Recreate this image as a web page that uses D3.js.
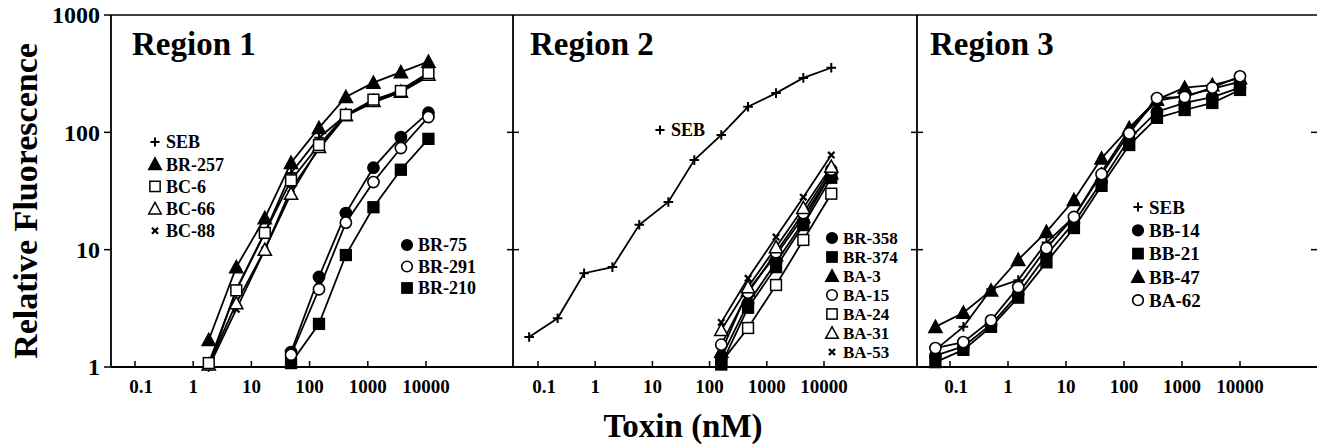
<!DOCTYPE html>
<html><head><meta charset="utf-8">
<script src="https://cdn.jsdelivr.net/npm/d3@7"></script>
<style>body{margin:0;background:#fff}svg{display:block}text{font-family:"Liberation Serif","Times New Roman",serif;font-weight:bold;fill:#000}</style>
</head><body><svg id="c" width="1317" height="446"></svg>
<script>
// ---------- data ----------
const xTickValues = [0.1, 1, 10, 100, 1000, 10000];
const xTickLabels = ["0.1", "1", "10", "100", "1000", "10000"];
const yTickValues = [1, 10, 100, 1000];
const yTickLabels = ["1", "10", "100", "1000"];
const panelTitles = ["Region 1", "Region 2", "Region 3"];

// Region 1
const r1DoseA = [1.85, 5.5, 17, 48, 145, 420, 1250, 3700, 11000];
const r1DoseB = [48, 145, 420, 1250, 3700, 11000];
const r1_SEB   = [1.0, 4.6, 14, 45, 90, 140, 185, 230, 320];
const r1_BR257 = [1.7, 7.1, 18.6, 55, 109, 200, 265, 326, 400];
const r1_BC6   = [1.08, 4.5, 13.9, 39, 78, 141, 190, 225, 320];
const r1_BC66  = [1.05, 3.5, 10, 30, 75, 140, 185, 222, 310];
const r1_BC88  = [1.0, 3.1, 10, 33, 72, 138, 180, 220, 300];
const r1_BR75  = [1.34, 5.85, 20.5, 50, 91, 147];
const r1_BR291 = [1.27, 4.6, 17, 37.7, 73.5, 135];
const r1_BR210 = [1.08, 2.33, 9, 23, 48, 88];

// Region 2
const r2DoseSEB = [0.07, 0.22, 0.64, 2.0, 5.9, 19, 54, 160, 470, 1450, 4350, 13400];
const r2_SEB    = [1.8, 2.6, 6.3, 7.1, 16.3, 25.5, 58, 95, 165, 216, 291, 355];
const r2Dose    = [160, 470, 1450, 4350, 13400];
const r2_BR358  = [1.2, 3.5, 7.8, 17.2, 45];
const r2_BR374  = [1.05, 3.2, 7.1, 16.2, 41];
const r2_BA3    = [1.35, 4.5, 9, 19, 45];
const r2_BA15   = [1.55, 4.3, 9.5, 20.5, 48];
const r2_BA24   = [1.1, 2.15, 5.0, 12.1, 30];
const r2_BA31   = [2.07, 4.8, 10.5, 22.7, 51];
const r2_BA53   = [2.4, 5.7, 12.8, 28, 64];

// Region 3
const r3Dose   = [0.056, 0.17, 0.51, 1.5, 4.6, 13.7, 41, 123, 370, 1111, 3333, 10000];
const r3_SEB   = [1.4, 2.2, 4.6, 5.5, 11.5, 19, 46, 105, 185, 205, 235, 270];
const r3_BB14  = [1.25, 1.5, 2.3, 4.2, 9, 17, 38, 88, 150, 178, 200, 240];
const r3_BB21  = [1.1, 1.4, 2.2, 3.9, 7.8, 15.3, 35, 78, 133, 155, 178, 230];
const r3_BB47  = [2.2, 2.9, 4.5, 8.2, 14.2, 26.5, 60, 109, 190, 240, 253, 290];
const r3_BA62  = [1.45, 1.63, 2.5, 4.8, 10.3, 19, 44, 98, 196, 200, 240, 300];

// ---------- layout ----------
const svg = d3.select("#c");
const yTop = 15, yBot = 367;
const y = d3.scaleLog().domain([1, 1000]).range([yBot, yTop]);

const panels = [
  {title: panelTitles[0], left: 111, right: 513, tick0: 135, tick4: 426, titleX: 132,
   series: [
     {name: "SEB", sym: "plus", xs: r1DoseA, ys: r1_SEB},
     {name: "BC-88", sym: "x", xs: r1DoseA, ys: r1_BC88},
     {name: "BC-66", sym: "otri", xs: r1DoseA, ys: r1_BC66},
     {name: "BC-6", sym: "osq", xs: r1DoseA, ys: r1_BC6},
     {name: "BR-257", sym: "tri", xs: r1DoseA, ys: r1_BR257},
     {name: "BR-210", sym: "sq", xs: r1DoseB, ys: r1_BR210},
     {name: "BR-75", sym: "circ", xs: r1DoseB, ys: r1_BR75},
     {name: "BR-291", sym: "ocirc", xs: r1DoseB, ys: r1_BR291}
   ],
   legends: [
     {x: 155, y0: 142, dy: 22.2, size: 18, items: [["plus","SEB"],["tri","BR-257"],["osq","BC-6"],["otri","BC-66"],["x","BC-88"]]},
     {x: 407, y0: 245, dy: 21.5, size: 18, items: [["circ","BR-75"],["ocirc","BR-291"],["sq","BR-210"]]}
   ]},
  {title: panelTitles[1], left: 513, right: 917, tick0: 538, tick4: 824, titleX: 530,
   series: [
     {name: "SEB", sym: "plus", xs: r2DoseSEB, ys: r2_SEB},
     {name: "BA-24", sym: "osq", xs: r2Dose, ys: r2_BA24},
     {name: "BR-374", sym: "sq", xs: r2Dose, ys: r2_BR374},
     {name: "BR-358", sym: "circ", xs: r2Dose, ys: r2_BR358},
     {name: "BA-3", sym: "tri", xs: r2Dose, ys: r2_BA3},
     {name: "BA-15", sym: "ocirc", xs: r2Dose, ys: r2_BA15},
     {name: "BA-31", sym: "otri", xs: r2Dose, ys: r2_BA31},
     {name: "BA-53", sym: "x", xs: r2Dose, ys: r2_BA53}
   ],
   legends: [
     {x: 660, y0: 130, dy: 20, size: 18, items: [["plus","SEB"]]},
     {x: 832, y0: 238, dy: 19, size: 17, items: [["circ","BR-358"],["sq","BR-374"],["tri","BA-3"],["ocirc","BA-15"],["osq","BA-24"],["otri","BA-31"],["x","BA-53"]]}
   ]},
  {title: panelTitles[2], left: 917, right: 1317, tick0: 950, tick4: 1240, titleX: 930,
   series: [
     {name: "BB-21", sym: "sq", xs: r3Dose, ys: r3_BB21},
     {name: "BB-14", sym: "circ", xs: r3Dose, ys: r3_BB14},
     {name: "SEB", sym: "plus", xs: r3Dose, ys: r3_SEB},
     {name: "BB-47", sym: "tri", xs: r3Dose, ys: r3_BB47},
     {name: "BA-62", sym: "ocirc", xs: r3Dose, ys: r3_BA62}
   ],
   legends: [
     {x: 1138, y0: 207, dy: 23.3, size: 19, items: [["plus","SEB"],["circ","BB-14"],["sq","BB-21"],["tri","BB-47"],["ocirc","BA-62"]]}
   ]}
];

function drawSymbol(g, sym, cx, cy, s) {
  s = s || 1;
  const stroke = "#000";
  if (sym === "circ" || sym === "ocirc") {
    g.append("circle").attr("cx", cx).attr("cy", cy).attr("r", 5.6 * s)
      .attr("fill", sym === "circ" ? "#000" : "#fff").attr("stroke", stroke).attr("stroke-width", 1.6);
  } else if (sym === "sq" || sym === "osq") {
    const h = 5.4 * s;
    g.append("rect").attr("x", cx - h).attr("y", cy - h).attr("width", 2 * h).attr("height", 2 * h)
      .attr("fill", sym === "sq" ? "#000" : "#fff").attr("stroke", stroke).attr("stroke-width", 1.5);
  } else if (sym === "tri" || sym === "otri") {
    const h = 6.6 * s;
    g.append("path").attr("d", `M${cx},${cy - h}L${cx + h},${cy + h * 0.85}L${cx - h},${cy + h * 0.85}Z`)
      .attr("fill", sym === "tri" ? "#000" : "#fff").attr("stroke", stroke).attr("stroke-width", 1.5);
  } else if (sym === "plus") {
    const h = 4.8 * s;
    g.append("path").attr("d", `M${cx - h},${cy}H${cx + h}M${cx},${cy - h}V${cy + h}`)
      .attr("stroke", stroke).attr("stroke-width", 2).attr("fill", "none");
  } else if (sym === "x") {
    const h = 3.2 * s;
    g.append("path").attr("d", `M${cx - h},${cy - h}L${cx + h},${cy + h}M${cx + h},${cy - h}L${cx - h},${cy + h}`)
      .attr("stroke", stroke).attr("stroke-width", 2.2).attr("fill", "none");
  }
}

// frame lines
const frame = svg.append("g").attr("stroke", "#000").attr("fill", "none");
frame.append("line").attr("x1", 111).attr("x2", 1317).attr("y1", yTop).attr("y2", yTop).attr("stroke-width", 1.6);
frame.append("line").attr("x1", 111).attr("x2", 1317).attr("y1", yBot).attr("y2", yBot).attr("stroke-width", 1.8);

panels.forEach((p, i) => {
  const x = d3.scaleLog().domain([0.1, 10000]).range([p.tick0, p.tick4]);
  const g = svg.append("g");

  g.append("line").attr("x1", p.left).attr("x2", p.left).attr("y1", yTop).attr("y2", yBot)
    .attr("stroke", "#000").attr("stroke-width", 1.8);

  yTickValues.forEach((v, k) => {
    if (i === 0) {
      g.append("line").attr("x1", p.left - 7).attr("x2", p.left).attr("y1", y(v)).attr("y2", y(v))
        .attr("stroke", "#000").attr("stroke-width", 1.5);
      g.append("text").attr("x", 100).attr("y", y(v)).attr("dy", "0.35em").attr("text-anchor", "end")
        .attr("font-size", 24).text(yTickLabels[k]);
    } else if (v === 10 || v === 100) {
      g.append("line").attr("x1", p.left - 6).attr("x2", p.left + 6).attr("y1", y(v)).attr("y2", y(v))
        .attr("stroke", "#000").attr("stroke-width", 1.5);
    }
  });
  if (i === 2) {
    [10, 100].forEach(v => g.append("line").attr("x1", 1311).attr("x2", 1317).attr("y1", y(v)).attr("y2", y(v))
      .attr("stroke", "#000").attr("stroke-width", 1.5));
  }

  xTickValues.forEach((v, k) => {
    g.append("line").attr("x1", x(v)).attr("x2", x(v)).attr("y1", yBot - 6).attr("y2", yBot)
      .attr("stroke", "#000").attr("stroke-width", 1.5);
    g.append("text").attr("x", x(v) + (k === 0 ? 6 : 0)).attr("y", 393).attr("text-anchor", "middle")
      .attr("font-size", 19).text(xTickLabels[k]);
  });

  g.append("text").attr("x", p.titleX).attr("y", 55).attr("font-size", 33).text(p.title);

  const line = d3.line().x(d => x(d[0])).y(d => y(d[1]));
  p.series.forEach(s => {
    const pts = s.xs.map((xv, j) => [xv, s.ys[j]]);
    g.append("path").attr("d", line(pts)).attr("fill", "none").attr("stroke", "#000").attr("stroke-width", 1.8);
  });
  p.series.forEach(s => {
    const sg = g.append("g");
    s.xs.forEach((xv, j) => drawSymbol(sg, s.sym, x(xv), y(s.ys[j])));
  });

  p.legends.forEach(L => {
    L.items.forEach((it, j) => {
      const cy = L.y0 + j * L.dy;
      drawSymbol(g, it[0], L.x, cy, 0.95);
      g.append("text").attr("x", L.x + 11).attr("y", cy).attr("dy", "0.35em")
        .attr("font-size", L.size).text(it[1]);
    });
  });
});

svg.append("text").attr("transform", "translate(37,201) rotate(-90)").attr("text-anchor", "middle")
  .attr("font-size", 34).text("Relative Fluorescence");
svg.append("text").attr("x", 683).attr("y", 437).attr("text-anchor", "middle")
  .attr("font-size", 33).text("Toxin (nM)");
</script></body></html>
